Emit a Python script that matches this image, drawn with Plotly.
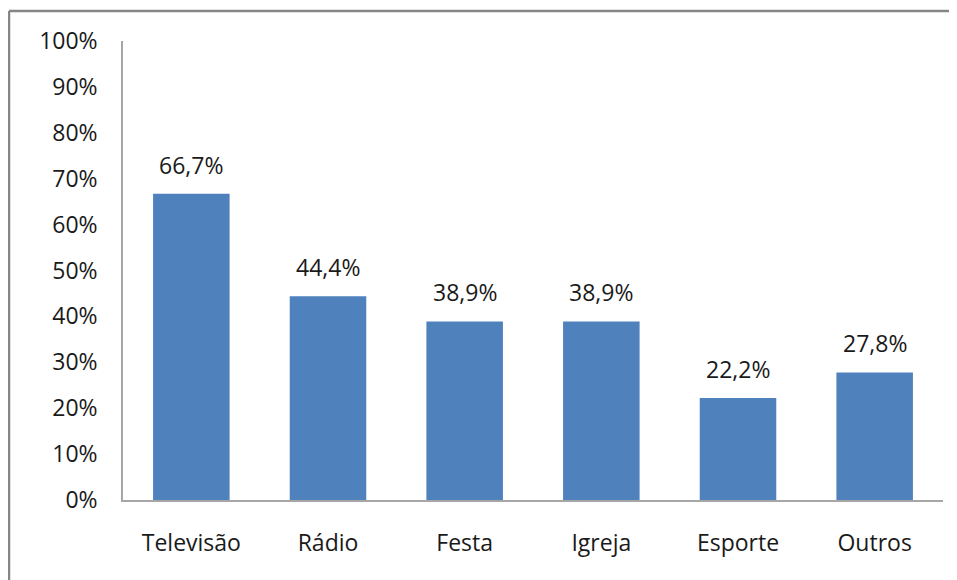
import plotly.graph_objects as go

categories = ["Televisão", "Rádio", "Festa", "Igreja", "Esporte", "Outros"]
values = [66.7, 44.4, 38.9, 38.9, 22.2, 27.8]
tick_vals = list(range(0, 101, 10))
tick_text = [f"{v}%" for v in tick_vals]

FONT = "Open Sans"
FS = 23
OFF = 8  # default page body margin
W, H = 957 - OFF, 580 - OFF
L, R, T, B = 123 - OFF, W - (943 - OFF), 41 - OFF, H - (500 - OFF)
pw, ph = W - L - R, H - T - B

fig = go.Figure()
fig.add_trace(go.Bar(
    x=categories, y=values,
    marker=dict(color="#4F81BD", line=dict(width=0)),
    hoverinfo="skip",
))

for c, v in zip(categories, values):
    fig.add_annotation(
        x=c, y=v, xref="x", yref="y",
        text=f"{v:.1f}".replace(".", ",") + "%",
        showarrow=False, yanchor="bottom", yshift=11,
        font=dict(family=FONT, size=FS, color="#1a1a1a"),
    )

# outer frame: only top and left edges are visible in the reference
fx0 = (9 - OFF - L) / pw
fy1 = 1 + (T - (11 - OFF)) / ph
fx1 = (W + 20 - L) / pw
fy0 = 1 - (H + 20 - T) / ph
frame = dict(color="#868686", width=2.5)
fig.add_shape(type="line", xref="paper", yref="paper",
              x0=fx0, x1=fx1, y0=fy1, y1=fy1, line=frame, layer="below")
fig.add_shape(type="line", xref="paper", yref="paper",
              x0=fx0, x1=fx0, y0=fy0, y1=fy1, line=frame, layer="below")

fig.update_layout(
    width=W, height=H,
    margin=dict(l=L, r=R, t=T, b=B),
    paper_bgcolor="white", plot_bgcolor="white",
    bargap=0.44,
    showlegend=False,
    font=dict(family=FONT, size=FS, color="#1a1a1a"),
    xaxis=dict(
        showline=True, linecolor="#A6A6A6", linewidth=1.5,
        ticks="outside", ticklen=22, tickcolor="rgba(0,0,0,0)",
        tickfont=dict(family=FONT, size=FS, color="#1a1a1a"),
        showgrid=False, zeroline=False,
    ),
    yaxis=dict(
        range=[0, 100], tickvals=tick_vals, ticktext=tick_text,
        showline=True, linecolor="#A6A6A6", linewidth=1.5,
        ticks="outside", ticklen=19, tickcolor="rgba(0,0,0,0)",
        tickfont=dict(family=FONT, size=FS, color="#1a1a1a"),
        showgrid=False, zeroline=False,
    ),
)

fig.write_html("out.html")
